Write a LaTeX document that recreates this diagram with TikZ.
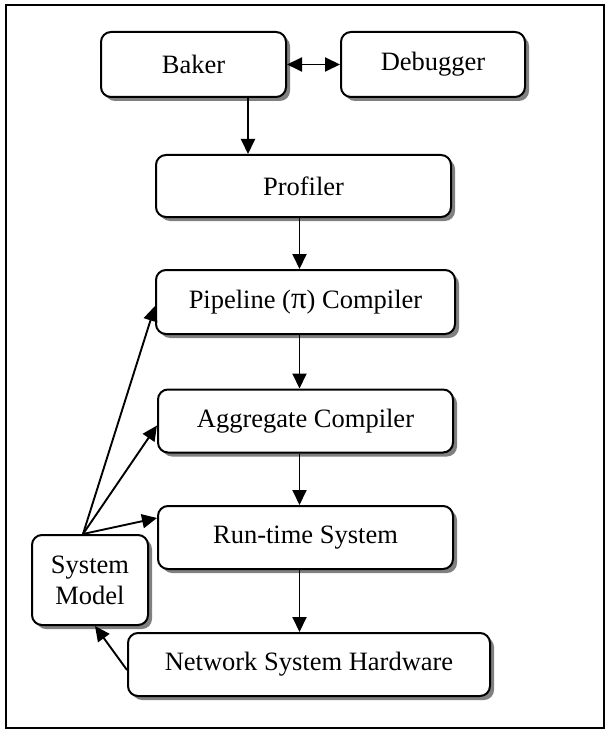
\documentclass[tikz,border=0pt]{standalone}
\usepackage{fontspec}
\setmainfont{Liberation Serif}
\usetikzlibrary{arrows.meta,shadows,calc}

\begin{document}
\begin{tikzpicture}[x=1pt,y=-1pt,
  box/.style={draw=black, line width=2pt, rounded corners=10pt, fill=white,
    align=center, inner sep=0pt, font=\fontsize{26.5}{31}\selectfont,
    drop shadow={shadow xshift=4pt, shadow yshift=-4pt, fill=gray, opacity=1}},
  head/.tip={Triangle[length=15pt,width=14pt]},
  conn/.style={line width=1.9pt, -head},
  both/.style={line width=1.9pt, head-head},
]
\useasboundingbox (0,0) rectangle (607,730);
% outer frame
\draw[line width=2pt] (6,5.5) rectangle (604,727.5);

% tool chain boxes
\node[box, minimum width=185pt, minimum height=65pt] (baker) at (193.5,64.5) {Baker};
\node[box, minimum width=184pt, minimum height=65pt] (debug) at (433,64.5) {Debugger};
\node[box, minimum width=295pt, minimum height=62pt] (prof) at (303.5,186) {Profiler};
\node[box, minimum width=299pt, minimum height=64pt] (pipe) at (305.5,302) {Pipeline ({\fontsize{31}{31}\selectfont π}) Compiler};
\node[box, minimum width=295pt, minimum height=63pt] (agg) at (305.5,421) {Aggregate Compiler};
\node[box, minimum width=295pt, minimum height=63pt] (rt) at (305.5,537.5) {Run-time System};
\node[box, minimum width=362pt, minimum height=63pt] (net) at (309,664.5) {Network System Hardware};
\node[box, minimum width=116pt, minimum height=90pt] (sm) at (90,580) {System\\Model};

% guide columns for the vertical connectors
\coordinate (bx) at (248,0);
\coordinate (cx) at (299.5,0);
\coordinate (smtop) at ($(sm.north)+(-7,0)$);

% connectors
\draw[both] (baker) -- (debug);
\draw[conn] (baker.south -| bx) -- (prof.north -| bx);
\draw[conn] (prof.south -| cx) -- (pipe.north -| cx);
\draw[conn] (pipe.south -| cx) -- (agg.north -| cx);
\draw[conn] (agg.south -| cx) -- (rt.north -| cx);
\draw[conn] (rt.south -| cx) -- (net.north -| cx);

\draw[conn] (smtop) -- ($(pipe.west)+(0,4)$);
\draw[conn] (smtop) -- ($(agg.west)+(0,4.5)$);
\draw[conn] (smtop) -- ($(rt.west)+(0,-19.5)$);
\draw[conn] ($(net.west)+(0,5.5)$) -- ($(sm.south)+(5,0)$);
\end{tikzpicture}
\end{document}
